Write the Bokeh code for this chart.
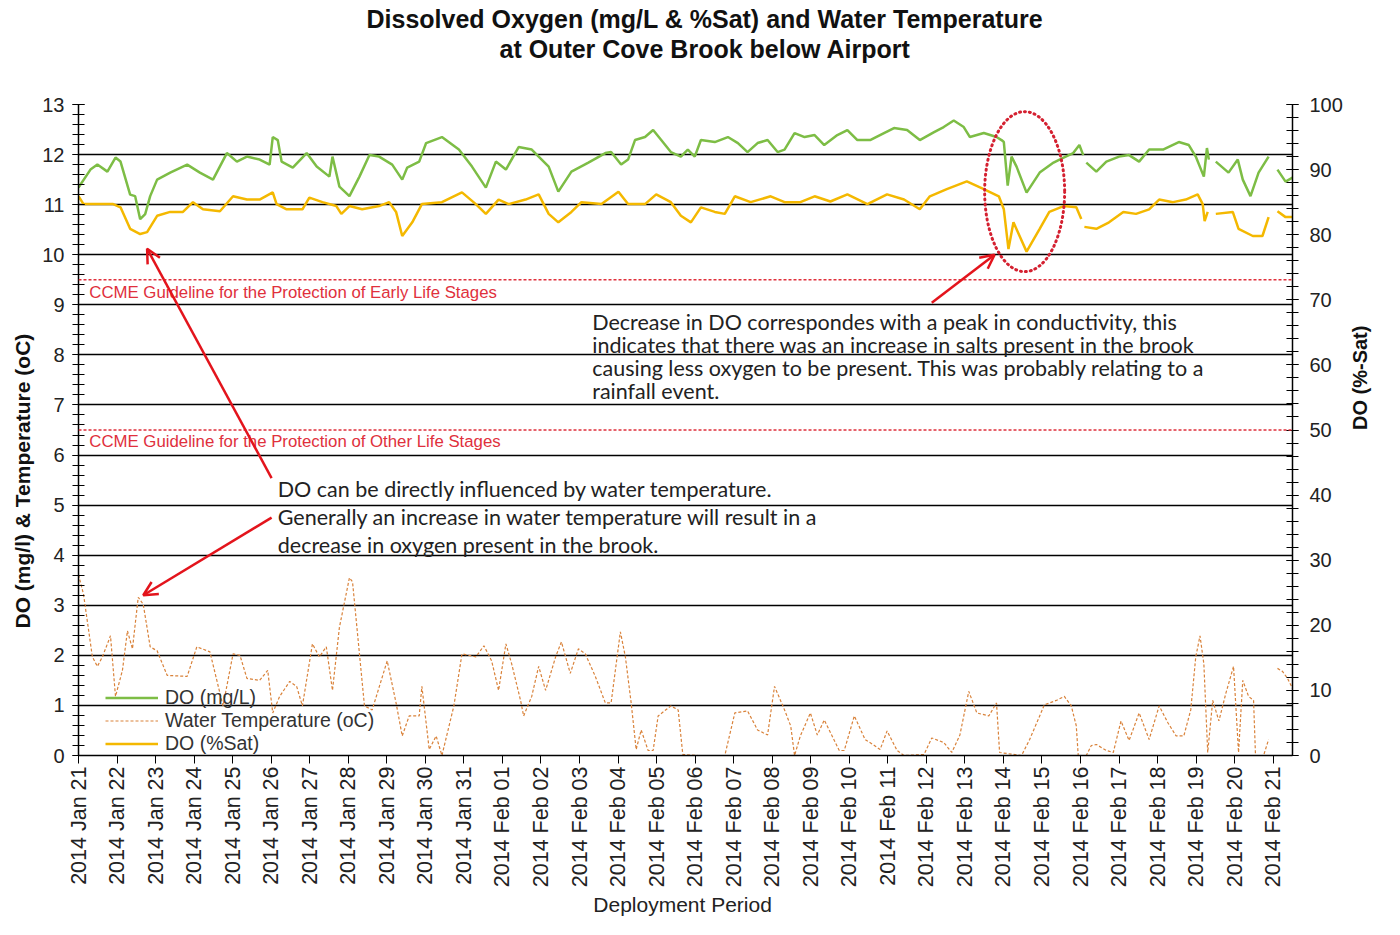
import math
import numpy as np
import pandas as pd
from bokeh.plotting import figure
from bokeh.models import (Range1d, LinearAxis, SingleIntervalTicker, DaysTicker, FixedTicker,
                          DatetimeTickFormatter, Span, Label, Arrow, OpenHead,
                          Legend, LegendItem, Title)
from bokeh.embed import file_html
from bokeh.resources import INLINE

NAN = float("nan")
START = pd.Timestamp("2014-01-21")
END_DAYS = 31.5

# ---- data (days since 2014-01-21 00:00) ----
do_mgl_day = [0.00, 0.31, 0.49, 0.75, 0.96, 1.09, 1.34, 1.47, 1.60, 1.73, 1.86, 2.04, 2.38, 2.82,
              3.15, 3.49, 3.85, 4.11, 4.37, 4.70, 4.96, 5.04, 5.17, 5.27, 5.56, 5.92, 6.18, 6.51,
              6.59, 6.77, 7.03, 7.29, 7.55, 7.80, 8.14, 8.40, 8.53, 8.84, 9.02, 9.43, 9.87, 10.21,
              10.57, 10.83, 11.09, 11.42, 11.76, 11.94, 12.20, 12.45, 12.79, 13.23, 13.67, 13.82,
              14.08, 14.26, 14.44, 14.70, 14.91, 15.12, 15.37, 15.63, 15.81, 15.99, 16.15, 16.51,
              16.85, 17.11, 17.36, 17.62, 17.88, 18.14, 18.32, 18.58, 18.84, 19.10, 19.35, 19.69,
              19.95, 20.21, 20.54, 20.90, 21.16, 21.50, 21.83, 22.20, 22.45, 22.71, 22.97, 23.13,
              23.49, 23.82, 23.95, 24.01, 24.11, 24.21, 24.34, 24.60, 24.94, 25.30, 25.56, 25.81,
              25.97, 26.07, 26.11, 26.15, 26.41, 26.67, 27.00, 27.26, 27.52, 27.78, 28.14, 28.55,
              28.81, 28.99, 29.20, 29.28, 29.33, 29.42, 29.51, 29.84, 30.08, 30.21, 30.41, 30.62,
              30.88, 31.00, 31.11, 31.32, 31.50]
do_mgl = [11.34, 11.70, 11.80, 11.66, 11.94, 11.86, 11.20, 11.17, 10.71, 10.81, 11.17, 11.50, 11.64, 11.80,
          11.64, 11.50, 12.03, 11.86, 11.96, 11.90, 11.80, 12.35, 12.29, 11.86, 11.74, 12.03, 11.76, 11.56,
          11.96, 11.36, 11.17, 11.56, 11.99, 11.96, 11.80, 11.50, 11.74, 11.86, 12.23, 12.35, 12.10, 11.76,
          11.34, 11.86, 11.70, 12.15, 12.10, 11.96, 11.76, 11.26, 11.66, 11.84, 12.03, 12.05,
          11.80, 11.90, 12.29, 12.35, 12.49, 12.29, 12.05, 11.96, 12.10, 11.96, 12.29, 12.25,
          12.35, 12.23, 12.05, 12.23, 12.29, 12.05, 12.10, 12.43, 12.35, 12.39, 12.19, 12.39,
          12.49, 12.29, 12.29, 12.43, 12.53, 12.49, 12.29, 12.45, 12.55, 12.68, 12.55, 12.35,
          12.43, 12.35, 12.29, 12.25, 11.38, 11.96, 11.76, 11.24, 11.64, 11.84, 11.94, 12.03,
          12.19, 11.99, NAN, 11.84, 11.66, 11.86, 11.96, 11.99, 11.86, 12.10, 12.10, 12.25,
          12.19, 11.96, 11.56, 12.13, 11.90, NAN, 11.86, 11.64, 11.90, 11.50, 11.17, 11.64,
          11.96, NAN, 11.70, 11.46, 11.54]

do_sat_day = [0.00, 0.13, 0.57, 0.90, 1.09, 1.34, 1.60, 1.78, 2.04, 2.38, 2.71, 2.97, 3.23, 3.67,
              4.01, 4.37, 4.70, 5.04, 5.14, 5.40, 5.81, 5.99, 6.33, 6.69, 6.82, 7.03, 7.36, 7.80,
              8.06, 8.24, 8.40, 8.66, 8.91, 9.43, 9.95, 10.31, 10.57, 10.90, 11.16, 11.60, 11.94,
              12.20, 12.45, 12.79, 13.05, 13.57, 14.01, 14.26, 14.70, 14.99, 15.37, 15.63, 15.89,
              16.15, 16.51, 16.77, 17.03, 17.44, 17.96, 18.32, 18.73, 19.10, 19.51, 19.95, 20.47,
              20.98, 21.42, 21.83, 22.09, 22.53, 23.05, 23.49, 23.88, 24.01, 24.13, 24.26, 24.60,
              24.94, 25.19, 25.56, 25.89, 26.02, 26.06, 26.10, 26.41, 26.74, 27.11, 27.44, 27.78,
              28.04, 28.40, 28.73, 29.04, 29.17, 29.22, 29.30, 29.42, 29.51, 29.95, 30.10, 30.47,
              30.72, 30.88, 31.00, 31.11, 31.32, 31.50]
do_sat = [85.9, 84.7, 84.7, 84.7, 84.2, 80.9, 80.1, 80.4, 82.9, 83.5, 83.5, 85.0, 83.9, 83.6,
          85.9, 85.4, 85.4, 86.5, 84.7, 83.9, 83.9, 85.7, 85.0, 84.4, 83.2, 84.4, 83.9, 84.4,
          85.0, 83.5, 79.8, 81.9, 84.7, 85.0, 86.5, 84.7, 83.2, 85.4, 84.7, 85.4, 86.2,
          83.2, 81.9, 83.5, 85.0, 84.7, 86.6, 84.7, 84.7, 86.2, 85.0, 82.9, 81.9,
          84.2, 83.5, 83.2, 85.9, 85.0, 85.9, 85.0, 85.0, 85.9, 85.1, 86.2, 84.7,
          86.2, 85.4, 83.9, 85.9, 87.0, 88.2, 87.0, 85.9, 83.9, 77.8, 81.9, 77.4,
          80.9, 83.5, 84.4, 84.2, 82.4, NAN, 81.2, 80.9, 81.9, 83.5, 83.2, 83.9,
          85.4, 85.0, 85.4, 86.2, 84.7, 82.1, 83.5, NAN, 83.2, 83.5, 80.9, 79.8,
          79.8, 82.7, NAN, 83.6, 82.7, 82.7]

temp_day = [0.00, 0.13, 0.36, 0.49, 0.62, 0.83, 0.96, 1.14, 1.27, 1.40, 1.55, 1.68, 1.86, 2.04,
            2.30, 2.82, 3.07, 3.41, 3.75, 4.01, 4.19, 4.37, 4.70, 4.91, 5.04, 5.22, 5.48, 5.66,
            5.81, 6.07, 6.25, 6.43, 6.59, 6.77, 7.03, 7.11, 7.29, 7.42, 7.62, 8.01, 8.24, 8.40,
            8.58, 8.84, 8.91, 9.10, 9.28, 9.43, 9.74, 9.95, 10.31, 10.52, 10.72, 10.90, 11.09,
            11.24, 11.47, 11.55, 11.76, 11.94, 12.12, 12.38, 12.53, 12.76, 12.97, 13.15, 13.41,
            13.67, 13.82, 14.06, 14.19, 14.34, 14.47, 14.60, 14.78, 14.91, 15.04, 15.37, 15.56,
            15.68, 16.07, 16.77, 17.03, 17.36, 17.62, 17.88, 18.06, 18.32, 18.48, 18.58, 18.73,
            18.99, 19.17, 19.35, 19.74, 19.87, 20.13, 20.41, 20.65, 20.80, 20.98, 21.24, 21.42,
            21.94, 22.14, 22.45, 22.66, 22.87, 23.10, 23.31, 23.62, 23.82, 23.90, 24.47, 24.68,
            24.94, 25.06, 25.37, 25.58, 25.76, 25.89, 25.94, 26.15, 26.28, 26.41, 26.67, 26.85,
            27.05, 27.26, 27.52, 27.78, 28.04, 28.27, 28.48, 28.68, 28.86, 28.99, 29.10, 29.20,
            29.30, 29.43, 29.59, 29.77, 29.97, 30.10, 30.21, 30.36, 30.49, 30.54, 30.75, 30.88,
            31.00, 31.11, 31.24, 31.37, 31.50]
temp = [3.61, 3.22, 1.97, 1.78, 1.97, 2.39, 1.18, 1.70, 2.49, 2.13, 3.16, 3.02, 2.17, 2.09,
        1.60, 1.58, 2.17, 2.07, 0.99, 2.03, 2.00, 1.54, 1.50, 1.70, 0.85, 1.18, 1.48, 1.38,
        0.99, 2.23, 1.97, 2.17, 1.30, 2.56, 3.55, 3.47, 2.03, 0.99, 0.91, 1.89, 1.05, 0.39,
        0.79, 0.79, 1.38, 0.12, 0.39, 0.00, 0.99, 2.03, 1.97, 2.19, 1.89, 1.30, 2.23,
        1.83, 1.10, 0.79, 1.18, 1.78, 1.30, 1.97, 2.27, 1.64, 2.13, 2.03, 1.58,
        1.05, 1.05, 2.47, 1.97, 1.05, 0.12, 0.51, 0.10, 0.10, 0.79, 0.99, 0.91,
        0.02, 0.00, 0.00, 0.85, 0.89, 0.51, 0.41, 1.38, 0.91, 0.59, 0.00, 0.39,
        0.85, 0.41, 0.71, 0.10, 0.10, 0.79, 0.32, 0.20, 0.12, 0.49, 0.10, 0.00,
        0.02, 0.35, 0.26, 0.06, 0.41, 1.28, 0.85, 0.79, 1.05, 0.06, 0.00, 0.32,
        0.79, 1.01, 1.10, 1.18, 0.99, 0.59, 0.00, 0.00, 0.20, 0.22, 0.10, 0.06,
        0.69, 0.30, 0.85, 0.32, 0.99, 0.65, 0.39, 0.39, 0.91, 1.97, 2.39, 1.83,
        0.06, 1.10, 0.69, 1.24, 1.78, 0.06, 1.50, 1.18, 1.10, 0.00, 0.00, 0.32,
        NAN, 1.74, 1.68, 1.54, 1.34]

guideline_early = 9.5
guideline_other = 6.5

# ---- helpers ----
def ms(day):
    return (START + pd.Timedelta(days=day) - pd.Timestamp("1970-01-01")).total_seconds() * 1000.0

def times(days):
    return [START + pd.Timedelta(days=d) for d in days]

GREEN = "#7dbd45"
GOLD = "#f4b800"
ORANGE = "#d9823a"
RED = "#e3141c"
GUIDE_RED = "#e0303c"
FONT = "Liberation Sans"
NOTE_FONT = "Lato"

p = figure(width=1384, height=919, x_axis_type="datetime", title=None,
           x_range=Range1d(START, START + pd.Timedelta(days=END_DAYS)),
           y_range=Range1d(0, 13), toolbar_location=None, output_backend="svg",
           min_border_left=78, min_border_right=87, min_border_top=104, min_border_bottom=156)
p.outline_line_color = None
p.background_fill_color = "white"
p.extra_y_ranges = {"sat": Range1d(0, 100)}

# titles (first added sits nearest the plot); a small spacer first
p.add_layout(Title(text=" ", text_font_size="2px", standoff=36), "above")
p.add_layout(Title(text="at Outer Cove Brook below Airport", align="left", offset=421,
                   vertical_align="top",
                   text_font=FONT, text_font_size="25px", text_font_style="bold",
                   text_color="#111111", standoff=0), "above")
p.add_layout(Title(text="Dissolved Oxygen (mg/L & %Sat) and Water  Temperature", align="left",
                   offset=288, vertical_align="top",
                   text_font=FONT, text_font_size="25px", text_font_style="bold",
                   text_color="#111111", standoff=0), "above")

# axes
ya = p.yaxis[0]
ya.ticker = SingleIntervalTicker(interval=1, num_minor_ticks=5)
ya.axis_line_color = "black"
ya.axis_line_width = 1.5
ya.major_tick_in = 6
ya.major_tick_out = 6
ya.minor_tick_in = 6
ya.minor_tick_out = 6
ya.major_tick_line_color = "black"
ya.minor_tick_line_color = "black"
ya.major_label_text_font = FONT
ya.major_label_text_font_size = "20px"
ya.major_label_text_color = "#222222"
ya.major_label_standoff = 8

# left axis title, placed as a side title so it can sit where the original has it
p.add_layout(Title(text="DO  (mg/l) & Temperature (oC)", align="left", offset=127,
                   text_font=FONT, text_font_size="21px", text_font_style="bold",
                   text_color="#111111", standoff=12), "left")

# right axis: ticks and numbers
ra = LinearAxis(y_range_name="sat", ticker=SingleIntervalTicker(interval=10, num_minor_ticks=5))
ra.axis_line_color = "black"
ra.axis_line_width = 1.5
ra.major_tick_in = 6
ra.major_tick_out = 6
ra.minor_tick_in = 6
ra.minor_tick_out = 6
ra.major_tick_line_color = "black"
ra.minor_tick_line_color = "black"
ra.major_label_text_font = FONT
ra.major_label_text_font_size = "20px"
ra.major_label_text_color = "#222222"
ra.major_label_standoff = 11
p.add_layout(ra, "right")

# right axis title carried by a bare axis (no line, no ticks) so it can sit lower
rt = LinearAxis(y_range_name="sat", ticker=FixedTicker(ticks=[]), bounds=(0, 70.7))
rt.axis_line_color = None
rt.major_tick_in = 0
rt.major_tick_out = 0
rt.minor_tick_in = 0
rt.minor_tick_out = 0
rt.major_tick_line_color = None
rt.minor_tick_line_color = None
rt.major_label_standoff = 0
rt.axis_label = "DO  (%-Sat)"
rt.axis_label_text_font = FONT
rt.axis_label_text_font_size = "20px"
rt.axis_label_text_font_style = "bold"
rt.axis_label_text_color = "#111111"
rt.axis_label_standoff = 14
try:
    rt.axis_label_orientation = math.pi / 2
except Exception:
    pass
p.add_layout(rt, "right")

xa = p.xaxis[0]
xa.ticker = DaysTicker(days=list(range(1, 32)))
xa.formatter = DatetimeTickFormatter(days="%Y %b %d", months="%Y %b %d", hours="%Y %b %d")
xa.major_label_orientation = math.pi / 2
xa.major_label_text_font = FONT
xa.major_label_text_font_size = "21.5px"
xa.major_label_text_color = "#222222"
xa.major_label_standoff = 3
xa.major_tick_in = 0
xa.major_tick_out = 8
xa.minor_tick_line_color = None
xa.axis_line_color = "black"
xa.axis_line_width = 1.5
xa.major_tick_line_color = "black"
xa.axis_label = "Deployment  Period"
xa.axis_label_text_font = FONT
xa.axis_label_text_font_size = "21px"
xa.axis_label_text_font_style = "normal"
xa.axis_label_text_color = "#222222"
xa.axis_label_standoff = 3

p.xgrid.grid_line_color = None
p.ygrid.grid_line_color = "black"
p.ygrid.grid_line_width = 1.5

# guideline lines
for g in (guideline_early, guideline_other):
    p.add_layout(Span(location=g, dimension="width", line_color=GUIDE_RED,
                      line_dash="3 2", line_width=1.5))

# data lines
r_do = p.line(times(do_mgl_day), do_mgl, line_color=GREEN, line_width=2.5)
r_t = p.line(times(temp_day), temp, line_color=ORANGE, line_width=1.2, line_dash="3 2")
r_sat = p.line(times(do_sat_day), do_sat, line_color=GOLD, line_width=2.5, y_range_name="sat")

legend = Legend(items=[LegendItem(label="DO (mg/L)", renderers=[r_do]),
                       LegendItem(label="Water Temperature (oC)", renderers=[r_t]),
                       LegendItem(label="DO (%Sat)", renderers=[r_sat])],
                location=(27, 0), orientation="vertical")
legend.background_fill_alpha = 0
legend.border_line_color = None
legend.label_text_font = FONT
legend.label_text_font_size = "19.5px"
legend.label_text_color = "#333333"
legend.glyph_width = 53
legend.glyph_height = 23
legend.label_height = 23
legend.spacing = 0
legend.padding = 0
legend.margin = 0
legend.label_standoff = 7
p.add_layout(legend)

# guideline labels
p.add_layout(Label(x=ms(0.28), y=9.25, text="CCME  Guideline  for the Protection of Early Life Stages",
                   text_font=FONT, text_font_size="16.8px", text_color=GUIDE_RED,
                   text_baseline="middle", text_align="left"))
p.add_layout(Label(x=ms(0.28), y=6.27, text="CCME  Guideline  for the Protection of Other Life Stages",
                   text_font=FONT, text_font_size="16.8px", text_color=GUIDE_RED,
                   text_baseline="middle", text_align="left"))

# notes
note1 = ["Decrease in DO correspondes with a peak in conductivity, this",
         "indicates that there was an increase in salts present in the brook",
         "causing less oxygen to be present. This was probably relating to a",
         "rainfall event."]
for i, line in enumerate(note1):
    p.add_layout(Label(x=ms(13.33), y=8.66, y_offset=-23 * i, text=line, text_font=NOTE_FONT,
                       text_font_size="21.5px", text_color="#222222",
                       text_baseline="middle", text_align="left"))
note2 = ["DO can be directly influenced by water temperature.",
         "Generally an increase in water temperature will result in a",
         "decrease in oxygen present in the brook."]
for i, line in enumerate(note2):
    p.add_layout(Label(x=ms(5.17), y=5.33, y_offset=-28 * i, text=line, text_font=NOTE_FONT,
                       text_font_size="21.5px", text_color="#222222",
                       text_baseline="middle", text_align="left"))

# arrows
for (d0, y0, d1, y1) in [(5.01, 5.54, 1.78, 10.12), (5.01, 4.75, 1.68, 3.20), (22.14, 9.04, 23.77, 10.0)]:
    p.add_layout(Arrow(end=OpenHead(size=14, line_color=RED, line_width=2.5),
                       x_start=ms(d0), y_start=y0, x_end=ms(d1), y_end=y1,
                       line_color=RED, line_width=2.5))

# dotted ellipse around the event
p.ellipse(x=[ms(24.55)], y=[11.26], width=80, height=160, width_units="screen",
          height_units="screen", fill_color=None, line_color="#d42030",
          line_width=3, line_dash="1 4", line_cap="round")

open("out.html", "w").write(file_html(p, INLINE))
